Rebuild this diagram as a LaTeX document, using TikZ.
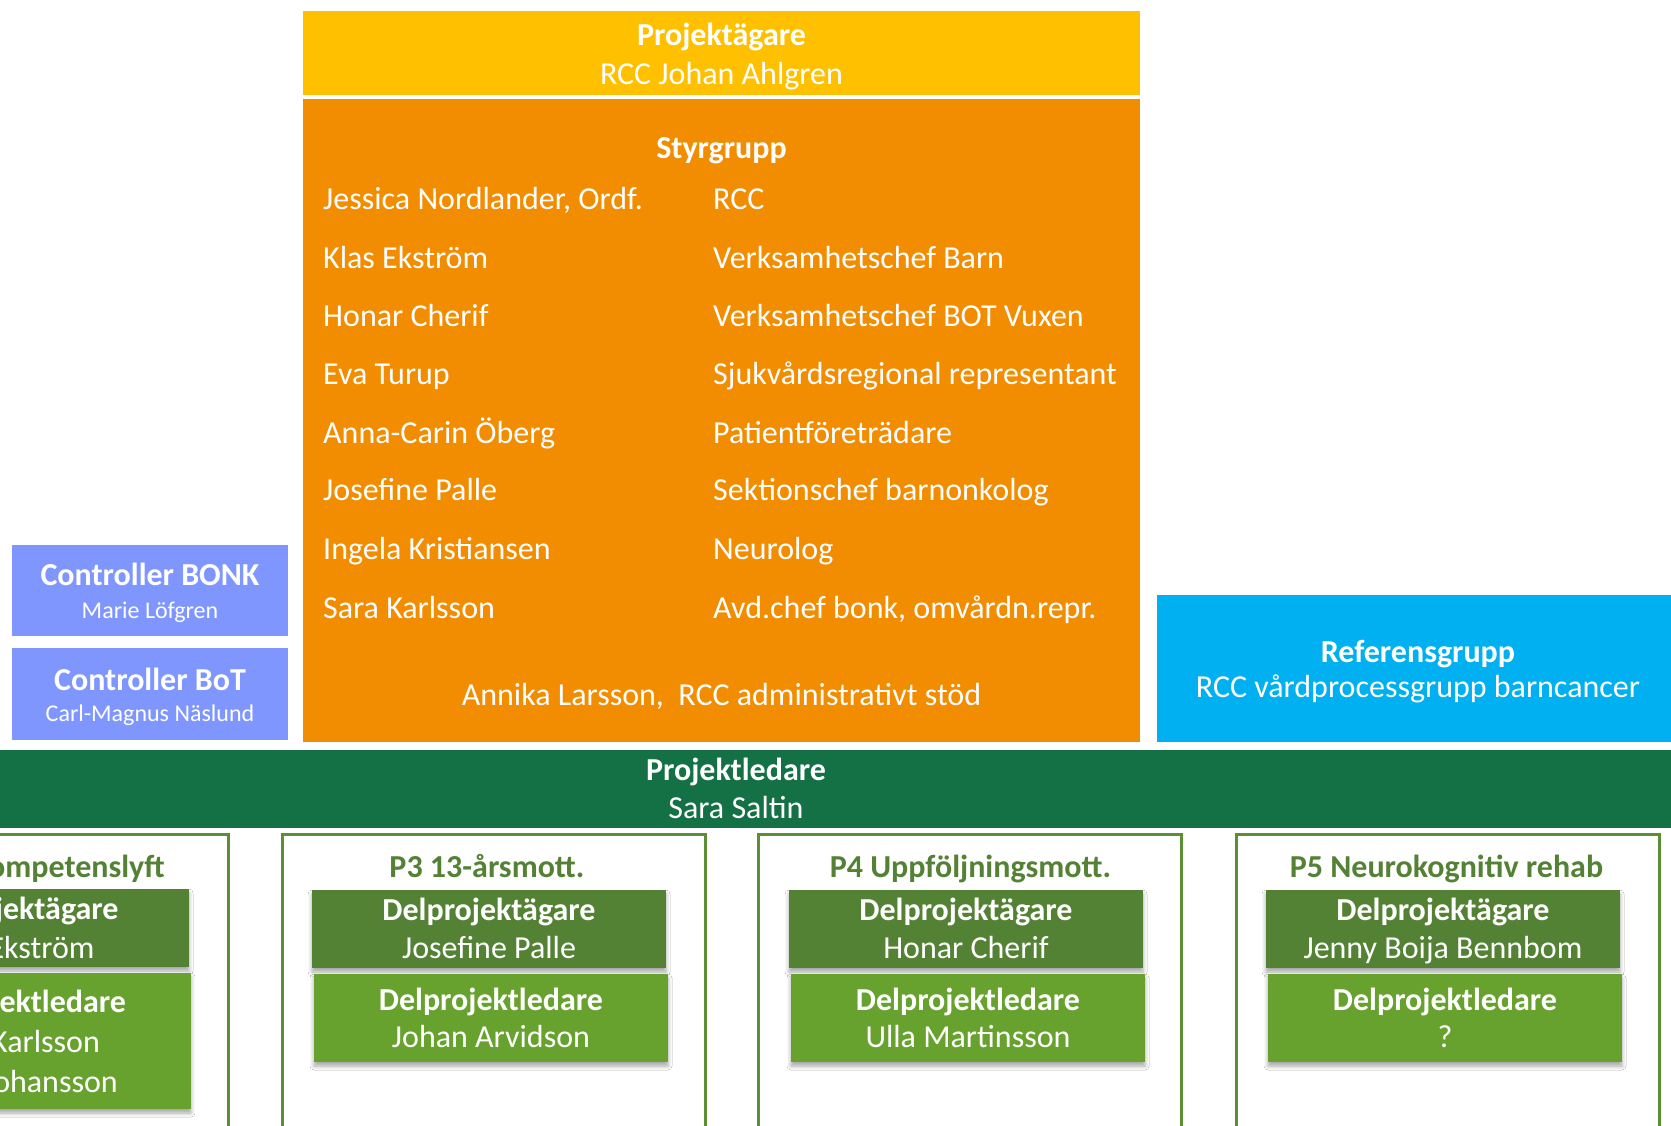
\documentclass[tikz,border=0pt]{standalone}
\usepackage{fontspec}
\setmainfont{Carlito}
\usetikzlibrary{shadows.blur}
\definecolor{cYellow}{HTML}{FFC000}
\definecolor{cOrange}{HTML}{F28C00}
\definecolor{cCtrl}{HTML}{8096FF}
\definecolor{cRef}{HTML}{00B0F0}
\definecolor{cBand}{HTML}{137145}
\definecolor{cDark}{HTML}{548235}
\definecolor{cLight}{HTML}{68A22E}
\definecolor{cLine}{HTML}{5A8F34}
\tikzset{
  blk/.style={anchor=north west, inner sep=0pt, outer sep=0pt, draw=none},
  dshadow/.style={blur shadow={shadow xshift=0pt, shadow yshift=-4pt, shadow blur radius=4pt, shadow opacity=35}},
  tx/.style={anchor=base, inner sep=0pt, text=white, font=\fontsize{32}{38}\selectfont},
  txb/.style={tx, font=\fontsize{32}{38}\selectfont\bfseries},
  txs/.style={tx, font=\fontsize{24}{28}\selectfont},
  txl/.style={tx, anchor=base west},
  ptitle/.style={txb, text=cDark},
  pbox/.style={blk, draw=cLine, line width=3pt, minimum width=423pt, minimum height=330pt},
  dbox/.style={blk, fill=cDark, minimum width=354pt, minimum height=78pt, dshadow},
  lbox/.style={blk, fill=cLight, minimum width=354pt, minimum height=88pt, dshadow},
}
\begin{document}
\begin{tikzpicture}[x=1pt, y=-1pt]
\useasboundingbox (0,0) rectangle (1671,1125);
\clip (0,0) rectangle (1671,1125);
\fill[white] (0,0) rectangle (1671,1125);

% top boxes
\node[blk, fill=cYellow, minimum width=837pt, minimum height=84pt] (pa) at (303,11) {};
\node[blk, fill=cOrange, minimum width=837pt, minimum height=643pt] (sg) at (303,99) {};
\node[txb] (paT) at (721.5,45) {Projektägare};
\node[tx] (paN) at (721.5,84) {RCC Johan Ahlgren};
\node[txb] (sgT) at (721.5,158) {Styrgrupp};

\node[txl] (l1) at (323,209) {Jessica Nordlander, Ordf.};
\node[txl] (l2) at (323,268.5) {Klas Ekström};
\node[txl] (l3) at (323,326) {Honar Cherif};
\node[txl] (l4) at (323,384.5) {Eva Turup};
\node[txl] (l5) at (323,443) {Anna-Carin Öberg};
\node[txl] (l6) at (323,500.5) {Josefine Palle};
\node[txl] (l7) at (323,559) {Ingela Kristiansen};
\node[txl] (l8) at (323,618) {Sara Karlsson};
\node[txl] (r1) at (713,209) {RCC};
\node[txl] (r2) at (713,268.5) {Verksamhetschef Barn};
\node[txl] (r3) at (713,326) {Verksamhetschef BOT Vuxen};
\node[txl] (r4) at (713,384.5) {Sjukvårdsregional representant};
\node[txl] (r5) at (713,443) {Patientföreträdare};
\node[txl] (r6) at (713,500.5) {Sektionschef barnonkolog};
\node[txl] (r7) at (713,559) {Neurolog};
\node[txl] (r8) at (713,618) {Avd.chef bonk, omvårdn.repr.};
\node[tx] (adm) at (721.5,705.5) {Annika Larsson,\space\space RCC administrativt stöd};

% controllers
\node[blk, fill=cCtrl, minimum width=276pt, minimum height=91pt] (cb) at (12,545) {};
\node[blk, fill=cCtrl, minimum width=276pt, minimum height=92pt] (ct) at (12,648) {};
\node[txb] (cbT) at (150,585.5) {Controller BONK};
\node[txs] (cbN) at (150,618) {Marie Löfgren};
\node[txb] (ctT) at (150,690.5) {Controller BoT};
\node[txs] (ctN) at (150,721) {Carl-Magnus Näslund};

% reference group
\node[blk, fill=cRef, minimum width=530pt, minimum height=147pt] (ref) at (1157,595) {};
\node[txb] (refT) at (1418,662.5) {Referensgrupp};
\node[tx] (refN) at (1418,697.5) {RCC vårdprocessgrupp barncancer};

% project leader band
\node[blk, fill=cBand, minimum width=1700pt, minimum height=78pt] (pl) at (-15,750) {};
\node[txb] (plT) at (736,780.5) {Projektledare};
\node[tx] (plN) at (736,818.5) {Sara Saltin};

% sub-projects
\node[pbox] (p2) at (-195,834) {};
\node[pbox] (p3) at (282,834) {};
\node[pbox] (p4) at (758,834) {};
\node[pbox] (p5) at (1236,834) {};

\node[ptitle, anchor=base east] (p2T) at (165,877.5) {Kompetenslyft};
\node[ptitle] (p3T) at (487,877.5) {P3 13-årsmott.};
\node[ptitle] (p4T) at (970.5,877.5) {P4 Uppföljningsmott.};
\node[ptitle] (p5T) at (1446.5,877.5) {P5 Neurokognitiv rehab};

% P2
\node[dbox] (p2d) at (-165,889) {};
\node[lbox, minimum height=136pt] (p2l) at (-163,973) {};
\node[txb] (p2dT) at (12,919.5) {Delprojektägare};
\node[tx] (p2dN) at (12,958) {Klas Ekström};
\node[txb] (p2lT) at (14,1012) {Delprojektledare};
\node[tx] (p2lN) at (14,1052) {Sara Karlsson};
\node[tx, anchor=base east] (p2lN2) at (118,1092) {Johansson};

% P3
\node[dbox] (p3d) at (312,890) {};
\node[lbox] (p3l) at (314,974) {};
\node[txb] (p3dT) at (489,920.5) {Delprojektägare};
\node[tx] (p3dN) at (489,958.5) {Josefine Palle};
\node[txb] (p3lT) at (491,1010.5) {Delprojektledare};
\node[tx] (p3lN) at (491,1047.5) {Johan Arvidson};

% P4
\node[dbox] (p4d) at (789,890) {};
\node[lbox] (p4l) at (791,974) {};
\node[txb] (p4dT) at (966,920.5) {Delprojektägare};
\node[tx] (p4dN) at (966,958.5) {Honar Cherif};
\node[txb] (p4lT) at (968,1010.5) {Delprojektledare};
\node[tx] (p4lN) at (968,1047.5) {Ulla Martinsson};

% P5
\node[dbox] (p5d) at (1266,890) {};
\node[lbox] (p5l) at (1268,974) {};
\node[txb] (p5dT) at (1443,920.5) {Delprojektägare};
\node[tx] (p5dN) at (1443,958.5) {Jenny Boija Bennbom};
\node[txb] (p5lT) at (1445,1010.5) {Delprojektledare};
\node[tx] (p5lN) at (1445,1047.5) {?};
\end{tikzpicture}
\end{document}
